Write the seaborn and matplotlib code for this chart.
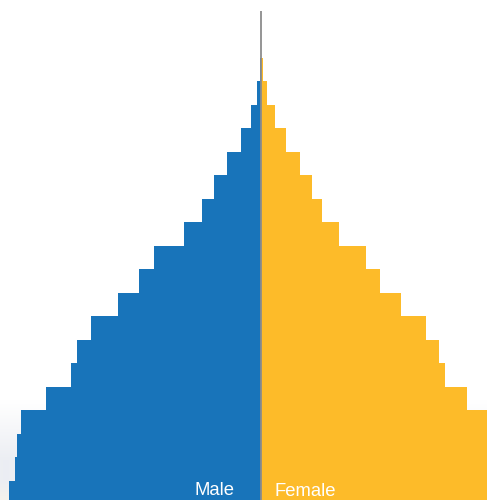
import numpy as np
import pandas as pd
import matplotlib
matplotlib.use("Agg")
import matplotlib.pyplot as plt
import seaborn as sns

# Age groups, youngest first
age_groups = ["0-4", "5-9", "10-14", "15-19", "20-24", "25-29", "30-34",
              "35-39", "40-44", "45-49", "50-54", "55-59", "60-64", "65-69",
              "70-74", "75-79", "80-84", "85-89", "90-94", "95-99", "100+"]

# Population per age group (thousands)
male = [251.7, 246.0, 244.3, 239.7, 214.7, 190.0, 183.7, 170.0, 143.0, 122.3,
        107.0, 77.0, 58.7, 47.0, 33.7, 20.5, 10.0, 3.7, 1.2, 0.0, 0.0]
female = [245.0, 240.0, 237.0, 232.0, 206.3, 184.0, 178.3, 164.7, 139.7, 119.0,
          105.0, 78.0, 61.0, 51.0, 38.7, 25.2, 14.3, 6.3, 2.3, 0.0, 0.0]

male_color = "#1874ba"
female_color = "#fdbb29"

df = pd.DataFrame({"age": age_groups, "male": male, "female": female})
df["male_neg"] = -df["male"]
order = age_groups[::-1]  # oldest at the top

sns.set_theme(style="white")
plt.rcParams["font.family"] = ["Liberation Sans", "DejaVu Sans"]

fig = plt.figure(figsize=(4.87, 5.0), dpi=100)
ax = fig.add_axes([0, 0, 1, 1])

xlim = (-261, 226)
ylim = (20.32, -0.955)

# Soft pale haze toward the bottom of the backdrop
rows = np.arange(500)
white = np.array([1.0, 1.0, 1.0])
cool = np.array([236, 238, 243]) / 255
warm = np.array([245, 243, 236]) / 255
t1 = np.clip((rows - 400) / 60, 0, 1)[:, None]
t2 = np.clip((rows - 480) / 20, 0, 1)[:, None]
grad = white * (1 - t1) + cool * t1
grad = grad * (1 - t2) + warm * t2
ax.imshow(grad[:, None, :], extent=(xlim[0], xlim[1], ylim[0], ylim[1]),
          aspect="auto", origin="upper", zorder=0, interpolation="bilinear")

sns.barplot(data=df, x="male_neg", y="age", order=order, orient="h",
            color=male_color, saturation=1, width=1.0, linewidth=0, ax=ax,
            zorder=2)
sns.barplot(data=df, x="female", y="age", order=order, orient="h",
            color=female_color, saturation=1, width=1.0, linewidth=0, ax=ax,
            zorder=2)

# Central axis line
ax.vlines(0, -0.5, 21, color="#8c8c8c", linewidth=1.3, zorder=5)

ax.set_xlim(*xlim)
ax.set_ylim(*ylim)
ax.axis("off")

ax.text(-27, 20.11, "Male", color="white", fontsize=13.3, ha="right",
        va="baseline", zorder=6)
ax.text(13, 20.15, "Female", color="white", fontsize=13.3, ha="left",
        va="baseline", zorder=6)

fig.savefig("out.png", dpi=100)
